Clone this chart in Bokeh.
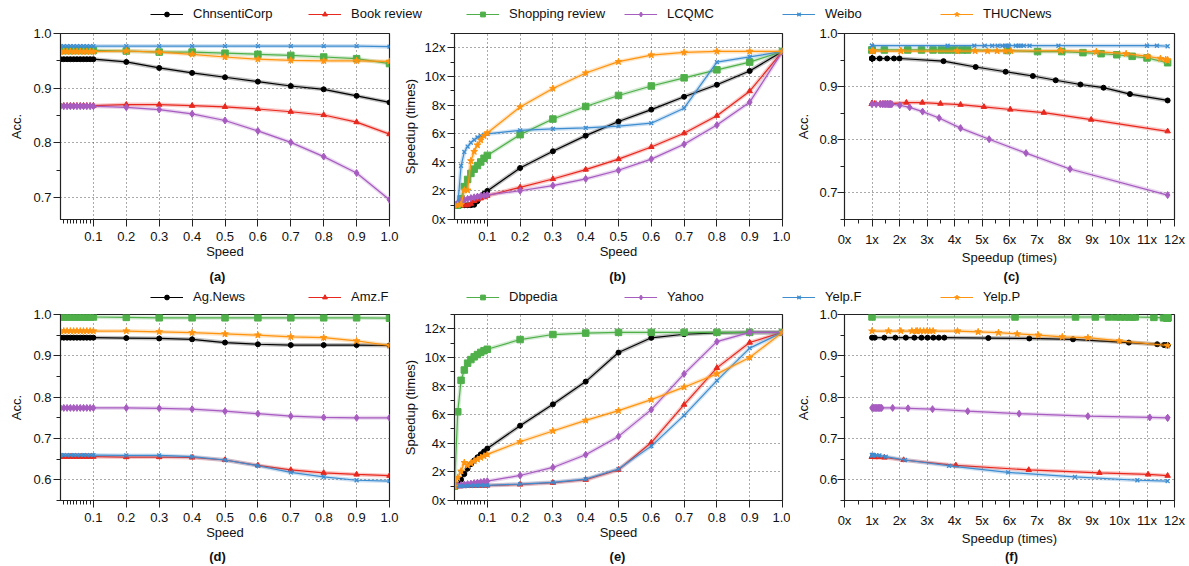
from bokeh.plotting import figure
from bokeh.layouts import column, row
from bokeh.models import (ColumnDataSource, FixedTicker, PrintfTickFormatter, Legend,
                          LegendItem, Range1d, Label)
from bokeh.embed import file_html
from bokeh.resources import INLINE

FONT = "Liberation Sans"

# ---------------- data ----------------
speed = [0.0, 0.01, 0.02, 0.03, 0.04, 0.05, 0.06, 0.07, 0.08, 0.09, 0.1,
         0.2, 0.3, 0.4, 0.5, 0.6, 0.7, 0.8, 0.9, 1.0]

# Chinese datasets
chnsenticorp_acc = [0.953, 0.953, 0.953, 0.953, 0.953, 0.953, 0.953, 0.953, 0.953, 0.953, 0.953,
                    0.948, 0.937, 0.928, 0.920, 0.912, 0.904, 0.898, 0.886, 0.874]
chnsenticorp_speedup = [1.0, 1.0, 1.0, 1.0, 1.0, 1.0, 1.03, 1.28, 1.55, 1.8, 2.0,
                        3.6, 4.77, 5.86, 6.85, 7.68, 8.58, 9.42, 10.38, 11.75]
book_acc = [0.868, 0.868, 0.868, 0.868, 0.868, 0.868, 0.868, 0.868, 0.868, 0.868, 0.868,
            0.870, 0.870, 0.868, 0.866, 0.862, 0.857, 0.851, 0.838, 0.816]
book_speedup = [1.0, 1.0, 1.0, 1.0, 1.0, 1.1, 1.3, 1.4, 1.48, 1.56, 1.66,
                2.25, 2.83, 3.49, 4.22, 5.07, 6.03, 7.25, 8.97, 11.75]
shopping_acc = [0.969, 0.969, 0.969, 0.969, 0.969, 0.969, 0.969, 0.969, 0.969, 0.969, 0.969,
                0.968, 0.966, 0.966, 0.964, 0.962, 0.960, 0.957, 0.954, 0.945]
shopping_speedup = [1.0, 1.0, 1.45, 2.3, 2.8, 3.22, 3.52, 3.77, 4.02, 4.28, 4.48,
                    5.93, 7.02, 7.9, 8.67, 9.33, 9.9, 10.46, 11.0, 11.75]
lcqmc_acc = [0.867, 0.867, 0.867, 0.867, 0.867, 0.867, 0.867, 0.867, 0.867, 0.867, 0.867,
             0.865, 0.861, 0.853, 0.841, 0.822, 0.801, 0.775, 0.745, 0.696]
lcqmc_speedup = [1.0, 1.15, 1.3, 1.38, 1.44, 1.5, 1.55, 1.6, 1.64, 1.68, 1.72,
                 2.01, 2.37, 2.84, 3.44, 4.22, 5.26, 6.6, 8.2, 11.75]
weibo_acc = [0.977, 0.977, 0.977, 0.977, 0.977, 0.977, 0.977, 0.977, 0.977, 0.977, 0.977,
             0.977, 0.977, 0.977, 0.977, 0.977, 0.977, 0.977, 0.977, 0.976]
weibo_speedup = [1.0, 1.0, 3.75, 4.72, 5.1, 5.37, 5.57, 5.74, 5.85, 5.92, 5.98,
                 6.23, 6.33, 6.4, 6.52, 6.73, 7.78, 11.0, 11.36, 11.75]
thucnews_acc = [0.967, 0.967, 0.967, 0.967, 0.967, 0.967, 0.967, 0.967, 0.967, 0.967, 0.967,
                0.968, 0.966, 0.962, 0.957, 0.953, 0.951, 0.950, 0.950, 0.949]
thucnews_speedup = [1.0, 1.0, 1.05, 2.05, 2.05, 4.1, 4.75, 5.2, 5.55, 5.85, 6.05,
                    7.86, 9.16, 10.24, 11.03, 11.49, 11.68, 11.75, 11.75, 11.75]

# English datasets
agnews_acc = [0.944, 0.944, 0.944, 0.944, 0.944, 0.944, 0.944, 0.944, 0.944, 0.944, 0.944,
              0.943, 0.942, 0.940, 0.932, 0.928, 0.926, 0.926, 0.926, 0.925]
agnews_speedup = [1.0, 1.1, 1.45, 1.85, 2.23, 2.54, 2.8, 3.02, 3.23, 3.43, 3.63,
                  5.23, 6.72, 8.31, 10.34, 11.37, 11.62, 11.72, 11.75, 11.75]
amzf_acc = [0.656, 0.656, 0.656, 0.656, 0.656, 0.656, 0.656, 0.656, 0.656, 0.656, 0.656,
            0.655, 0.655, 0.654, 0.648, 0.635, 0.624, 0.617, 0.613, 0.610]
amzf_speedup = [1.0, 1.0, 1.01, 1.01, 1.02, 1.02, 1.03, 1.03, 1.04, 1.04, 1.05,
                1.12, 1.24, 1.45, 2.15, 4.05, 6.7, 9.27, 11.04, 11.75]
dbpedia_acc = [0.994, 0.994, 0.994, 0.994, 0.994, 0.994, 0.994, 0.994, 0.994, 0.994, 0.994,
               0.993, 0.992, 0.992, 0.992, 0.992, 0.992, 0.992, 0.992, 0.991]
dbpedia_speedup = [1.0, 6.2, 8.4, 9.12, 9.6, 9.85, 10.04, 10.2, 10.35, 10.47, 10.57,
                   11.25, 11.6, 11.7, 11.75, 11.75, 11.75, 11.75, 11.75, 11.75]
yahoo_acc = [0.774, 0.774, 0.774, 0.774, 0.774, 0.774, 0.774, 0.774, 0.774, 0.774, 0.774,
             0.774, 0.773, 0.771, 0.766, 0.760, 0.754, 0.751, 0.750, 0.750]
yahoo_speedup = [1.0, 1.05, 1.08, 1.12, 1.15, 1.18, 1.22, 1.25, 1.28, 1.32, 1.35,
                 1.75, 2.31, 3.2, 4.48, 6.35, 8.85, 11.1, 11.75, 11.75]
yelpf_acc = [0.660, 0.660, 0.660, 0.660, 0.660, 0.660, 0.660, 0.660, 0.660, 0.660, 0.660,
             0.659, 0.659, 0.656, 0.648, 0.634, 0.618, 0.607, 0.599, 0.597]
yelpf_speedup = [1.0, 1.0, 1.01, 1.01, 1.02, 1.02, 1.03, 1.04, 1.05, 1.05, 1.06,
                 1.15, 1.27, 1.5, 2.2, 3.8, 5.95, 8.38, 10.65, 11.75]
yelpp_acc = [0.960, 0.960, 0.960, 0.960, 0.960, 0.960, 0.960, 0.960, 0.960, 0.960, 0.960,
             0.960, 0.958, 0.956, 0.953, 0.950, 0.946, 0.944, 0.936, 0.925]
yelpp_speedup = [1.0, 1.6, 2.05, 2.65, 2.45, 2.6, 2.75, 2.88, 3.0, 3.1, 3.22,
                 4.11, 4.86, 5.6, 6.28, 7.05, 7.92, 8.85, 9.99, 11.75]

speed_ticks = [0.1, 0.2, 0.3, 0.4, 0.5, 0.6, 0.7, 0.8, 0.9, 1.0]
speed_minor = [0.01, 0.02, 0.03, 0.04, 0.05, 0.06, 0.07, 0.08, 0.09]
speedup_ticks = [0, 2, 4, 6, 8, 10, 12]
speedup_minor = [1, 3, 5, 7, 9, 11, 13]
speedup_x_ticks = [0, 1, 2, 3, 4, 5, 6, 7, 8, 9, 10, 11, 12]
speedup_x_minor = [0.5, 1.5, 2.5, 3.5, 4.5, 5.5, 6.5, 7.5, 8.5, 9.5, 10.5, 11.5]
acc_ticks_top = [0.7, 0.8, 0.9, 1.0]
acc_minor_top = [0.65, 0.75, 0.85, 0.95]
acc_ticks_bot = [0.6, 0.7, 0.8, 0.9, 1.0]
acc_minor_bot = [0.55, 0.65, 0.75, 0.85, 0.95]
captions_top = ["(a)", "(b)", "(c)"]
captions_bot = ["(d)", "(e)", "(f)"]

BLACK, RED, GREEN, PURPLE, BLUE, ORANGE = "#000000", "#e8281e", "#4fb04a", "#a75cc0", "#3e8dd0", "#ff9410"

top_series = [
    ("ChnsentiCorp", BLACK, "circle", 5, chnsenticorp_acc, chnsenticorp_speedup),
    ("Book review", RED, "triangle", 5.5, book_acc, book_speedup),
    ("Shopping review", GREEN, "square", 6.5, shopping_acc, shopping_speedup),
    ("LCQMC", PURPLE, "diamond", 7, lcqmc_acc, lcqmc_speedup),
    ("Weibo", BLUE, "x", 5.5, weibo_acc, weibo_speedup),
    ("THUCNews", ORANGE, "star", 7, thucnews_acc, thucnews_speedup),
]
bot_series = [
    ("Ag.News", BLACK, "circle", 5, agnews_acc, agnews_speedup),
    ("Amz.F", RED, "triangle", 5.5, amzf_acc, amzf_speedup),
    ("Dbpedia", GREEN, "square", 6.5, dbpedia_acc, dbpedia_speedup),
    ("Yahoo", PURPLE, "diamond", 7, yahoo_acc, yahoo_speedup),
    ("Yelp.F", BLUE, "x", 5.5, yelpf_acc, yelpf_speedup),
    ("Yelp.P", ORANGE, "star", 7, yelpp_acc, yelpp_speedup),
]

# page x of each caption centre (one per column)
CAPTION_X = [217, 617, 1011]


def style_axis(ax):
    ax.major_tick_out = 7
    ax.major_tick_in = 0
    ax.minor_tick_out = 4
    ax.minor_tick_in = 0
    ax.major_tick_line_color = "#222222"
    ax.minor_tick_line_color = "#222222"
    ax.axis_line_color = "#222222"
    ax.major_label_text_font = FONT
    ax.major_label_text_font_size = "13px"
    ax.major_label_text_color = "#111111"
    ax.axis_label_text_font = FONT
    ax.axis_label_text_font_size = "13px"
    ax.axis_label_text_font_style = "normal"
    ax.axis_label_text_color = "#111111"


def add_markers(p, src, color, marker, size):
    if marker == "x":
        return p.scatter("x", "y", source=src, marker=marker, size=size, line_color=color, line_width=1.3)
    return p.scatter("x", "y", source=src, marker=marker, size=size, fill_color=color, line_color=color)


def panel(series, mode, width, mb_left, mb_right, height, mb_top, mb_bottom,
          x_range, y_range, xticks, xminor, xfmt, yticks, yminor, yfmt,
          xlabel, ylabel, ylabel_standoff, ytick_standoff):
    p = figure(width=width, height=height, x_range=Range1d(*x_range), y_range=Range1d(*y_range),
               output_backend="svg", toolbar_location=None,
               min_border_left=mb_left, min_border_right=mb_right,
               min_border_top=mb_top, min_border_bottom=mb_bottom,
               outline_line_color="#222222", outline_line_width=1.2)
    p.xaxis.ticker = FixedTicker(ticks=xticks, minor_ticks=xminor)
    p.yaxis.ticker = FixedTicker(ticks=yticks, minor_ticks=yminor)
    p.xaxis.formatter = PrintfTickFormatter(format=xfmt)
    p.yaxis.formatter = PrintfTickFormatter(format=yfmt)
    p.xaxis.axis_label = xlabel
    p.yaxis.axis_label = ylabel
    for ax in list(p.xaxis) + list(p.yaxis):
        style_axis(ax)
    p.xaxis.major_label_standoff = 5
    p.xaxis.axis_label_standoff = 0
    p.yaxis.major_label_standoff = ytick_standoff
    p.yaxis.axis_label_standoff = ylabel_standoff
    p.grid.grid_line_color = "#555555"
    p.grid.grid_line_dash = "1 3"
    p.grid.grid_line_width = 1

    for name, color, marker, size, acc, spd in series:
        if mode == "acc":
            src = ColumnDataSource(dict(x=speed, y=acc))
        elif mode == "speedup":
            src = ColumnDataSource(dict(x=speed, y=spd))
        else:
            src = ColumnDataSource(dict(x=spd, y=acc))
        p.line("x", "y", source=src, color=color, line_width=4, line_alpha=0.25)
        p.line("x", "y", source=src, color=color, line_width=1.2)
        add_markers(p, src, color, marker, size)
    return p


def strip_fig(height, series=None, legend_vy=0, captions=None, caption_y=0):
    """A full-width strip that holds a row legend and/or the captions of the row above."""
    p = figure(width=1189, height=height, x_range=(0, 1), y_range=(5, 6),
               output_backend="svg", toolbar_location=None,
               x_axis_type=None, y_axis_type=None, min_border=0, outline_line_color=None)
    p.grid.visible = False
    if series is not None:
        items = []
        for name, color, marker, size, acc, spd in series:
            src = ColumnDataSource(dict(x=speed, y=acc))   # real data, outside the visible range
            l = p.line("x", "y", source=src, color=color, line_width=1.2)
            s = add_markers(p, src, color, marker, size)
            items.append(LegendItem(label=name, renderers=[l, s]))
        leg = Legend(items=items, orientation="horizontal", location=(150, legend_vy),
                     glyph_width=33, glyph_height=12, label_height=12, label_width=115,
                     label_standoff=10, spacing=0, padding=0, margin=0,
                     border_line_alpha=0, background_fill_alpha=0,
                     label_text_font=FONT, label_text_font_size="13px", label_text_color="#111111")
        p.add_layout(leg)
    if captions is not None:
        for cx, text in zip(CAPTION_X, captions):
            p.add_layout(Label(x=cx, y=caption_y, x_units="screen", y_units="screen", text=text,
                               text_align="center", text_baseline="middle", text_font=FONT,
                               text_font_size="13px", text_font_style="bold", text_color="#111111"))
    return p


def build_row(series, height, mb_top, frame_h, a_range, c_range, acc_ticks, acc_minor):
    mb_bottom = height - mb_top - frame_h
    pa = panel(series, "acc", 399, 60, 10, height, mb_top, mb_bottom, (0, 1), a_range,
               speed_ticks, speed_minor, "%.1f", acc_ticks, acc_minor, "%.1f",
               "Speed", "Acc.", 6, 2)
    pb = panel(series, "speedup", 391, 54, 8, height, mb_top, mb_bottom, (0, 1), (0, 13),
               speed_ticks, speed_minor, "%.1f", speedup_ticks, speedup_minor, "%dx",
               "Speed", "Speedup (times)", 4, 2)
    pc = panel(series, "trade", 399, 54, 15, height, mb_top, mb_bottom, (0, 12), c_range,
               speedup_x_ticks, speedup_x_minor, "%dx", acc_ticks, acc_minor, "%.1f",
               "Speedup (times)", "Acc.", 5, 0)
    return row(pa, pb, pc, spacing=0)


leg1 = strip_fig(22, series=top_series, legend_vy=1)                         # 0..22
row1 = build_row(top_series, 247, 11, 186, (0.66, 1.0), (0.65, 1.0),
                 acc_ticks_top, acc_minor_top)                                # 22..269
leg2 = strip_fig(37, series=bot_series, legend_vy=2,
                 captions=captions_top, caption_y=30)                         # 269..306
row2 = build_row(bot_series, 244, 8, 186, (0.55, 1.0), (0.55, 1.0),
                 acc_ticks_bot, acc_minor_bot)                                # 306..550
cap2 = strip_fig(16, captions=captions_bot, caption_y=10)                     # 550..566

layout = column(leg1, row1, leg2, row2, cap2, spacing=0)
open("out.html", "w").write(file_html(layout, INLINE))
